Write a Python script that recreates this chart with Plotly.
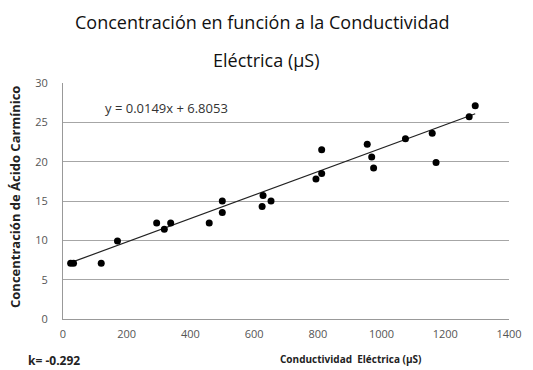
import plotly.graph_objects as go

# Data
conductividad = [24, 33, 120, 171, 294, 318, 338, 459, 500, 500, 625, 628, 653,
                 794, 812, 812, 955, 969, 975, 1075, 1159, 1171, 1275, 1294]
concentracion = [7.1, 7.1, 7.1, 9.9, 12.2, 11.4, 12.2, 12.2, 15.0, 13.55, 14.3, 15.7, 15.0,
                 17.8, 18.5, 21.5, 22.2, 20.6, 19.2, 22.9, 23.6, 19.9, 25.7, 27.1]
slope = 0.0149
intercept = 6.8053
x_ticks = [0, 200, 400, 600, 800, 1000, 1200, 1400]
y_ticks = [0, 5, 10, 15, 20, 25, 30]

x_line = [min(conductividad), max(conductividad)]
y_line = [slope * v + intercept for v in x_line]

fig = go.Figure()
fig.add_trace(go.Scatter(x=x_line, y=y_line, mode="lines",
                         line=dict(color="#222222", width=1.2), showlegend=False,
                         hoverinfo="skip"))
fig.add_trace(go.Scatter(x=conductividad, y=concentracion, mode="markers",
                         marker=dict(color="black", size=7), showlegend=False))

font_family = "Open Sans, Liberation Sans, sans-serif"

L, R, T, B = 63, 24, 83, 51
W, H = 533, 370
pw = W - L - R
ph = H - T - B


def ann(text, px, py, size, color="#222222", angle=0, xanchor="center"):
    return dict(text=text, xref="paper", yref="paper",
                x=(px - L) / pw, y=(H - B - py) / ph,
                xanchor=xanchor, yanchor="middle", showarrow=False,
                textangle=angle, font=dict(size=size, color=color, family=font_family))


fig.update_layout(
    width=W, height=H,
    margin=dict(l=L, r=R, t=T, b=B),
    paper_bgcolor="white", plot_bgcolor="white",
    font=dict(family=font_family, color="#333333"),
    xaxis=dict(range=[0, 1400], tickvals=x_ticks, showgrid=False, zeroline=False,
               showline=True, linecolor="#999999", linewidth=1,
               ticks="outside", ticklen=5, tickcolor="rgba(0,0,0,0)",
               tickfont=dict(size=11, color="#555555")),
    yaxis=dict(range=[0, 30], tickvals=y_ticks, showgrid=True, gridcolor="#a6a6a6",
               gridwidth=1, zeroline=False, showline=True, linecolor="#999999",
               linewidth=1, ticks="outside", ticklen=12, tickcolor="rgba(0,0,0,0)",
               tickfont=dict(size=11, color="#555555")),
    annotations=[
        ann("Concentración en función a la Conductividad", 262, 22, 18, "#111111"),
        ann("Eléctrica (µS)", 266, 60, 18, "#111111"),
        ann("y = 0.0149x + 6.8053", 103, 108, 13, "#333333", xanchor="left"),
        ann("<b>Concentración de Ácido Carmínico</b>", 15, 197, 13, angle=-90),
        ann("<b>Conductividad  Eléctrica (µS)</b>", 351, 359, 10),
        ann("<b>k= -0.292</b>", 54, 360, 12),
    ],
)

fig.write_html("out.html")
